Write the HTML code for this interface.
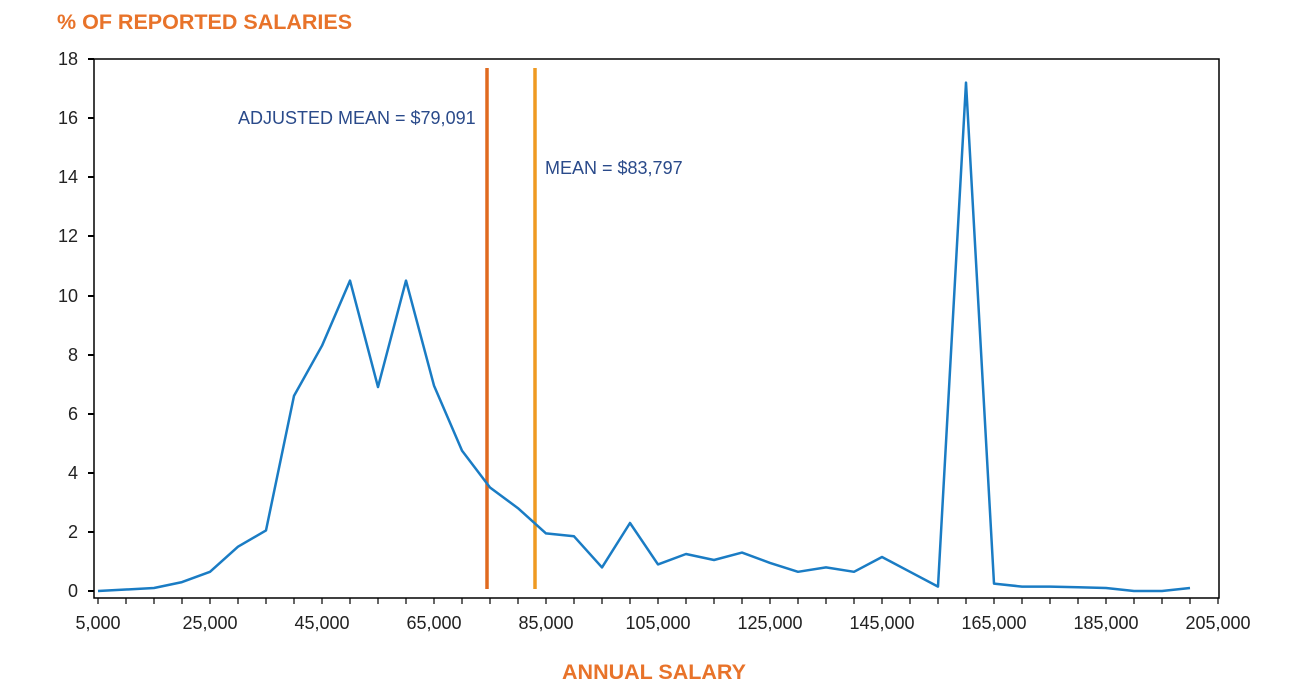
<!DOCTYPE html><html><head><style>body{margin:0;background:#fff}svg{display:block}text{font-family:"Liberation Sans",Arial,sans-serif}</style></head><body>
<svg width="1310" height="696" viewBox="0 0 1310 696">
<text x="57" y="29" font-size="21.5" font-weight="bold" fill="#e8732a">% OF REPORTED SALARIES</text>
<text x="654" y="679" font-size="21.5" font-weight="bold" fill="#e8732a" text-anchor="middle">ANNUAL SALARY</text>
<rect x="94" y="59" width="1125" height="539" fill="none" stroke="#000" stroke-width="1.5"/>
<g font-size="18" fill="#222" text-anchor="end">
<text x="78" y="597">0</text><text x="78" y="538">2</text><text x="78" y="479">4</text><text x="78" y="420">6</text><text x="78" y="361">8</text><text x="78" y="302">10</text><text x="78" y="242">12</text><text x="78" y="183">14</text><text x="78" y="124">16</text><text x="78" y="65">18</text>
</g>
<g stroke="#000" stroke-width="2">
<line x1="88" y1="591" x2="94" y2="591"/><line x1="88" y1="532" x2="94" y2="532"/><line x1="88" y1="473" x2="94" y2="473"/><line x1="88" y1="414" x2="94" y2="414"/><line x1="88" y1="355" x2="94" y2="355"/><line x1="88" y1="296" x2="94" y2="296"/><line x1="88" y1="236" x2="94" y2="236"/><line x1="88" y1="177" x2="94" y2="177"/><line x1="88" y1="118" x2="94" y2="118"/><line x1="88" y1="59" x2="94" y2="59"/>
</g>
<g id="xt" stroke="#000" stroke-width="1.2"></g>
<g id="xl" font-size="18" fill="#222" text-anchor="middle"></g>
<line x1="487" y1="68" x2="487" y2="589" stroke="#e06a1f" stroke-width="3.5"/>
<line x1="535" y1="68" x2="535" y2="589" stroke="#ef9a22" stroke-width="3.5"/>
<text x="238" y="124" font-size="18" fill="#2a4a8a">ADJUSTED MEAN = $79,091</text>
<text x="545" y="174" font-size="18" fill="#2a4a8a">MEAN = $83,797</text>
<polyline id="ln" fill="none" stroke="#1a7cc4" stroke-width="2.5" stroke-linejoin="round"/>
</svg>
<script>
var d=[0,0.05,0.1,0.3,0.65,1.5,2.05,6.6,8.3,10.5,6.9,10.5,6.95,4.75,3.5,2.8,1.95,1.85,0.8,2.3,0.9,1.25,1.05,1.3,0.95,0.65,0.8,0.65,1.15,0.65,0.15,17.2,0.25,0.15,0.15,0.13,0.1,0,0,0.1];
var s=1120/40,p=[];
d.forEach(function(v,i){p.push((98+i*s).toFixed(1)+","+(591-v*29.56).toFixed(1));});
document.getElementById("ln").setAttribute("points",p.join(" "));
var t="",l="";
for(var i=0;i<=40;i++){var x=98+i*s;if(x<=1219)t+='<line x1="'+x+'" y1="598" x2="'+x+'" y2="604"/>';if(i%4==0){var v=5000+i*5000;l+='<text x="'+x+'" y="629">'+v.toLocaleString("en-US")+'</text>';}}
document.getElementById("xt").innerHTML=t;document.getElementById("xl").innerHTML=l;
</script>
</body></html>
